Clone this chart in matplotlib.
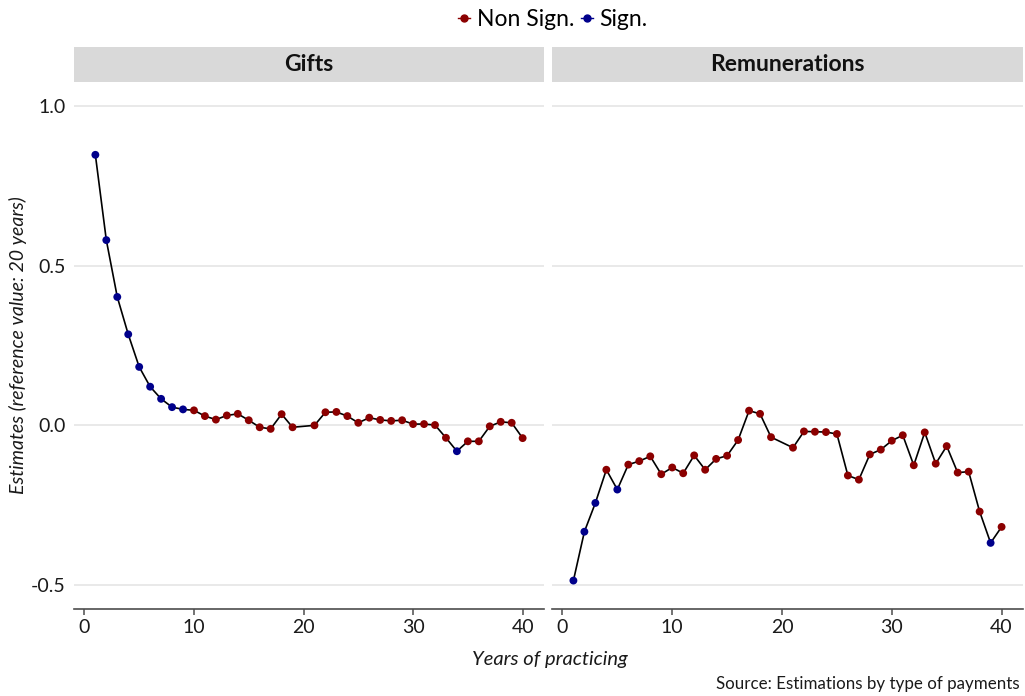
import matplotlib.pyplot as plt
from matplotlib.lines import Line2D
import numpy as np

plt.rcParams['font.family'] = ['Lato', 'DejaVu Sans']

RED = '#8B0000'
BLUE = '#00008B'

# years 1..40 without the reference year 20
years = [y for y in range(1, 41) if y != 20]

gifts = [0.847, 0.580, 0.402, 0.285, 0.183, 0.121, 0.083, 0.057, 0.050, 0.047,
         0.029, 0.018, 0.031, 0.036, 0.016, -0.006, -0.011, 0.035, -0.006,
         0.000, 0.041, 0.042, 0.029, 0.008, 0.024, 0.017, 0.014, 0.016, 0.004,
         0.004, 0.001, -0.039, -0.081, -0.050, -0.050, -0.003, 0.011, 0.008, -0.040]
gifts_sign = [1, 1, 1, 1, 1, 1, 1, 1, 1, 0,
              0, 0, 0, 0, 0, 0, 0, 0, 0,
              0, 0, 0, 0, 0, 0, 0, 0, 0, 0,
              0, 0, 0, 1, 0, 0, 0, 0, 0, 0]

remun = [-0.486, -0.333, -0.243, -0.139, -0.201, -0.123, -0.112, -0.097, -0.153, -0.132,
         -0.150, -0.094, -0.139, -0.105, -0.095, -0.046, 0.046, 0.036, -0.037,
         -0.070, -0.019, -0.020, -0.021, -0.027, -0.157, -0.170, -0.091, -0.076, -0.048,
         -0.031, -0.125, -0.022, -0.120, -0.065, -0.148, -0.145, -0.270, -0.368, -0.318]
remun_sign = [1, 1, 1, 0, 1, 0, 0, 0, 0, 0,
              0, 0, 0, 0, 0, 0, 0, 0, 0,
              0, 0, 0, 0, 0, 0, 0, 0, 0, 0,
              0, 0, 0, 0, 0, 0, 0, 0, 1, 0]

panels = [('Gifts', gifts, gifts_sign), ('Remunerations', remun, remun_sign)]

W, H = 1025, 696
fig = plt.figure(figsize=(W / 100, H / 100), dpi=100)

lefts = [74, 552]
rights = [544, 1023]
top, bottom = 82, 609
strip_top = 47

for i, (name, vals, sign) in enumerate(panels):
    ax = fig.add_axes([lefts[i] / W, 1 - bottom / H,
                       (rights[i] - lefts[i]) / W, (bottom - top) / H])
    ax.plot(years, vals, color='black', lw=1.2, zorder=2)
    cols = [BLUE if s else RED for s in sign]
    ax.scatter(years, vals, c=cols, s=32, zorder=3, linewidths=0)
    ax.set_xlim(-0.95, 41.95)
    ax.set_ylim(-0.575, 1.075)
    ax.set_xticks([0, 10, 20, 30, 40])
    ax.set_yticks([-0.5, 0.0, 0.5, 1.0])
    ax.yaxis.grid(True, color='#e3e3e3', lw=1.1)
    ax.set_axisbelow(True)
    for s in ['top', 'right', 'left']:
        ax.spines[s].set_visible(False)
    ax.spines['bottom'].set_color('#4d4d4d')
    ax.spines['bottom'].set_linewidth(1.2)
    ax.tick_params(axis='x', colors='#4d4d4d', length=4, width=1.1,
                   labelsize=14, labelcolor='#1a1a1a', pad=3)
    ax.tick_params(axis='y', length=0, labelsize=14, labelcolor='#1a1a1a', pad=6)
    if i == 0:
        ax.set_yticklabels(['-0.5', '0.0', '0.5', '1.0'])
    else:
        ax.set_yticklabels([])

    sax = fig.add_axes([lefts[i] / W, 1 - top / H,
                        (rights[i] - lefts[i]) / W, (top - strip_top) / H])
    sax.set_facecolor('#d9d9d9')
    sax.set_xticks([])
    sax.set_yticks([])
    for s in sax.spines.values():
        s.set_visible(False)
    sax.text(0.5, 0.5, name, ha='center', va='center', fontsize=16.5,
             fontweight='bold', color='#111111', transform=sax.transAxes)

fig.text(18 / W, 1 - 345 / H, 'Estimates (reference value: 20 years)',
         rotation=90, ha='center', va='center', fontsize=14, style='italic',
         color='#1a1a1a')
fig.text(550 / W, 1 - 660 / H, 'Years of practicing', ha='center', va='center',
         fontsize=14.5, style='italic', color='#1a1a1a')
fig.text(1020 / W, 1 - 684 / H, 'Source: Estimations by type of payments',
         ha='right', va='center', fontsize=12.2, color='#1a1a1a')

handles = [Line2D([], [], color=RED, marker='o', markersize=5, lw=1),
           Line2D([], [], color=BLUE, marker='o', markersize=5, lw=1)]
fig.legend(handles, ['Non Sign.', 'Sign.'], loc='center',
           bbox_to_anchor=(553 / W, 1 - 20 / H), ncol=2, frameon=False,
           fontsize=16.5, handlelength=0.5, handletextpad=0.3, columnspacing=0.3)

fig.savefig('out.png', dpi=100)
